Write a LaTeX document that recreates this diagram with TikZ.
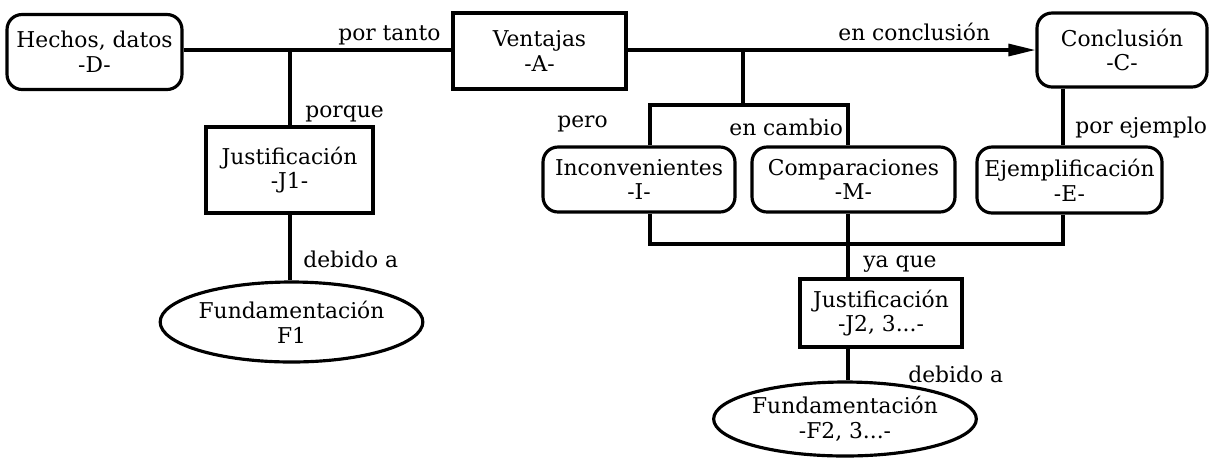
\documentclass[tikz,border=0pt]{standalone}
\usepackage{fontspec}
\setmainfont{DejaVu Serif}
\usetikzlibrary{arrows.meta,shapes.geometric}
\begin{document}
\begin{tikzpicture}[x=0.02cm,y=-0.02cm,
  every node/.style={font=\fontsize{12.4}{14}\selectfont, inner sep=0pt, align=center},
  ln/.style={line width=1.8pt},
  rbox/.style={draw, line width=1.8pt, rounded corners=0.3cm},
  sbox/.style={draw, line width=1.8pt},
  ebox/.style={draw, line width=1.8pt, ellipse},
  lbl/.style={anchor=base west}]
\useasboundingbox (0,0) rectangle (1211,458);
% nodes
\node[rbox, minimum width=3.5cm, minimum height=1.5cm] (D) at (94.5,52) {Hechos, datos\\-D-};
\node[sbox, minimum width=3.46cm, minimum height=1.52cm] (A) at (539.5,51) {Ventajas\\-A-};
\node[rbox, minimum width=3.4cm, minimum height=1.48cm] (C) at (1122,50) {Conclusión\\-C-};
\node[rbox, minimum width=3.84cm, minimum height=1.3cm] (I) at (639,179.5) {Inconvenientes\\-I-};
\node[rbox, minimum width=4.06cm, minimum height=1.3cm] (M) at (853.5,179.5) {Comparaciones\\-M-};
\node[rbox, minimum width=3.7cm, minimum height=1.32cm] (E) at (1069.5,180) {Ejemplificación\\-E-};
\node[sbox, minimum width=3.34cm, minimum height=1.72cm] (J1) at (289.5,170) {Justificación\\-J1-};
\node[sbox, minimum width=3.24cm, minimum height=1.36cm] (J2) at (881,313) {Justificación\\-J2, 3...-};
\node[ebox, minimum width=4.26cm, minimum height=1.6cm] (F1) at (291.5,322) {Fundamentación\\F1};
\node[ebox, minimum width=4.12cm, minimum height=1.48cm] (F2) at (845,419) {Fundamentación\\-F2, 3...-};
% junction coordinates
\coordinate (ja) at (290,50);
\coordinate (jb) at (743,50);
\coordinate (jbt) at (743,105);
\coordinate (xi) at (650,0);
\coordinate (xm) at (848,0);
\coordinate (xe) at (1063,0);
\coordinate (yb) at (0,244);
\coordinate (yt) at (0,105);
% connectors
\draw[ln] (D.east |- ja) -- (A.west |- ja);
\draw[ln] (ja) -- (J1.north -| ja);
\draw[ln] (J1.south -| ja) -- (F1.north -| ja);
\draw[ln,-{Triangle[length=0.54cm,width=0.24cm]}] (A.east |- jb) -- (C.west |- jb);
\draw[ln] (jb) -- (jbt);
\draw[ln] (I.north -| xi) -- (xi |- yt) -- (xm |- yt) -- (M.north -| xm);
\draw[ln] (C.south -| xe) -- (E.north -| xe);
\draw[ln] (I.south -| xi) -- (xi |- yb) -- (xe |- yb) -- (E.south -| xe);
\draw[ln] (M.south -| xm) -- (J2.north -| xm);
\draw[ln] (J2.south -| xm) -- (F2.north -| xm);
% labels
\node[lbl] (lpt) at (338,40) {por tanto};
\node[lbl] (lpq) at (305,117) {porque};
\node[lbl] (ld1) at (303,267) {debido a};
\node[lbl] (lec) at (838,40) {en conclusión};
\node[lbl] (lpe) at (557,127) {pero};
\node[lbl] (lcb) at (729,135) {en cambio};
\node[lbl] (lej) at (1075,133) {por ejemplo};
\node[lbl] (lyq) at (863,267) {ya que};
\node[lbl] (ld2) at (908,382) {debido a};
\end{tikzpicture}
\end{document}
